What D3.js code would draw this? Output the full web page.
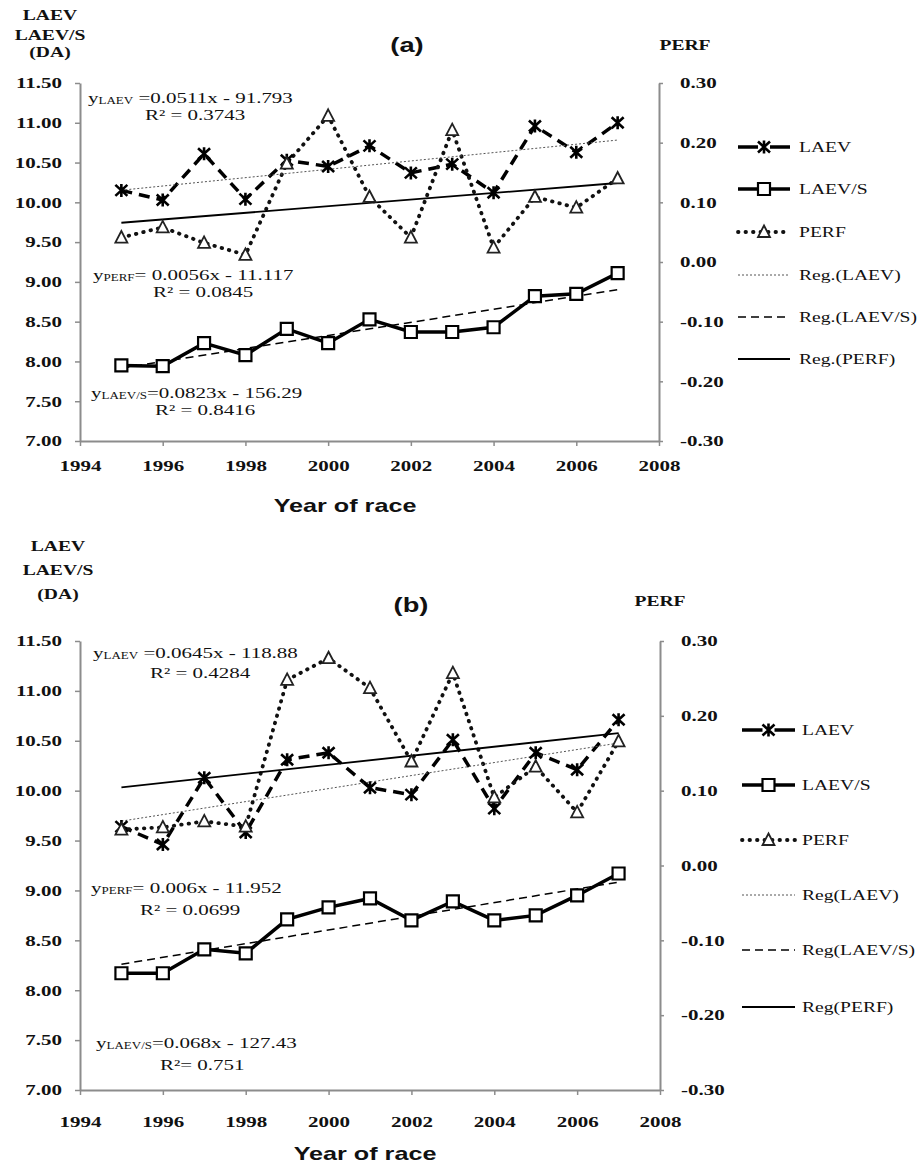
<!DOCTYPE html>
<html>
<head>
<meta charset="utf-8">
<script src="https://cdn.jsdelivr.net/npm/d3@7"></script>
<style>
  body { margin: 0; background: #fff; }
</style>
</head>
<body>
<div id="area"></div>
<script>
const years = [1995, 1996, 1997, 1998, 1999, 2000, 2001, 2002, 2003, 2004, 2005, 2006, 2007];

// panel (a)
const laevA = [10.15, 10.03, 10.61, 10.04, 10.53, 10.45, 10.71, 10.37, 10.48, 10.12, 10.96, 10.63, 11.0];
const laevsA = [7.95, 7.94, 8.23, 8.08, 8.41, 8.23, 8.53, 8.37, 8.37, 8.43, 8.82, 8.85, 9.11];
const perfA = [0.041, 0.058, 0.032, 0.012, 0.165, 0.245, 0.109, 0.041, 0.221, 0.024, 0.109, 0.091, 0.14];

// panel (b)
const laevB = [9.64, 9.46, 10.13, 9.58, 10.31, 10.38, 10.03, 9.96, 10.51, 9.82, 10.38, 10.21, 10.71];
const laevsB = [8.17, 8.17, 8.41, 8.37, 8.71, 8.83, 8.92, 8.7, 8.89, 8.7, 8.75, 8.95, 9.17];
const perfB = [0.048, 0.051, 0.059, 0.052, 0.248, 0.277, 0.237, 0.139, 0.257, 0.091, 0.132, 0.071, 0.166];

const yearTicks = [1994, 1996, 1998, 2000, 2002, 2004, 2006, 2008];
const leftTicks = [7.0, 7.5, 8.0, 8.5, 9.0, 9.5, 10.0, 10.5, 11.0, 11.5];
const rightTicks = [-0.3, -0.2, -0.1, 0.0, 0.1, 0.2, 0.3];

const legendA = ["LAEV", "LAEV/S", "PERF", "Reg.(LAEV)", "Reg.(LAEV/S)", "Reg.(PERF)"];
const legendB = ["LAEV", "LAEV/S", "PERF", "Reg(LAEV)", "Reg(LAEV/S)", "Reg(PERF)"];

// equation labels: [series, equation, R²]
const eqA = [
  ["LAEV", " =0.0511x - 91.793", "R\u00b2 = 0.3743"],
  ["PERF", "= 0.0056x - 11.117", "R\u00b2 = 0.0845"],
  ["LAEV/S", "=0.0823x - 156.29", "R\u00b2 = 0.8416"]
];
const eqB = [
  ["LAEV", " =0.0645x - 118.88", "R\u00b2 = 0.4284"],
  ["PERF", "= 0.006x - 11.952", "R\u00b2 = 0.0699"],
  ["LAEV/S", "=0.068x - 127.43", "R\u00b2= 0.751"]
];

const SX = 1.4; // the original is stretched sideways
const serif = "'Liberation Serif', 'Times New Roman', serif";
const sans = "'Liberation Sans', Arial, sans-serif";
const axisColor = "#8c8c8c";

const svg = d3.select("#area").append("svg").attr("width", 919).attr("height", 1164);

function label(x, y, str, o = {}) {
  return svg.append("text")
    .attr("transform", `translate(${x},${y}) scale(${o.sx || SX},1)`)
    .attr("font-family", o.family || serif)
    .attr("font-weight", o.weight || "normal")
    .attr("font-size", o.size || 15)
    .attr("text-anchor", o.anchor || "start")
    .attr("fill", "#111")
    .text(str);
}

function equation(x, y, e, size) {
  const t = label(x, y, null, { size: size });
  t.append("tspan").text("y");
  t.append("tspan").attr("font-size", size * 0.62).attr("dy", 1).text(e[0]);
  t.append("tspan").attr("dy", -1).text(e[1]);
}

function linreg(xs, ys) {
  const mx = d3.mean(xs), my = d3.mean(ys);
  const sxy = d3.sum(xs, (v, i) => (v - mx) * (ys[i] - my));
  const sxx = d3.sum(xs, (v) => (v - mx) * (v - mx));
  const b = sxy / sxx;
  return (v) => my + b * (v - mx);
}

const markers = {
  star: "M-6,-5.5L6,5.5M-6,5.5L6,-5.5M0,-6.5L0,6.5",
  square: "M-6,-6H6V6H-6Z",
  triangle: "M0,-6.5L6,5L-6,5Z"
};

const styles = {
  laev: { stroke: "#000", width: 3.5, dash: "11,7", cap: "butt", marker: "star" },
  laevs: { stroke: "#000", width: 3.5, dash: null, cap: "butt", marker: "square" },
  perf: { stroke: "#111", width: 3.8, dash: "0.5,7", cap: "round", marker: "triangle" },
  regLaev: { stroke: "#555", width: 1, dash: "2,2", cap: "butt" },
  regLaevs: { stroke: "#000", width: 1.5, dash: "8,5", cap: "butt" },
  regPerf: { stroke: "#000", width: 1.8, dash: null, cap: "butt" }
};

function styled(sel, s) {
  return sel.attr("fill", "none")
    .attr("stroke", s.stroke)
    .attr("stroke-width", s.width)
    .attr("stroke-dasharray", s.dash)
    .attr("stroke-linecap", s.cap);
}

function drawMarker(g, type, cx, cy) {
  const m = g.append("path").attr("d", markers[type]).attr("transform", `translate(${cx},${cy})`);
  if (type === "star") m.attr("fill", "none").attr("stroke", "#000").attr("stroke-width", 2.6);
  if (type === "square") m.attr("fill", "#fff").attr("stroke", "#000").attr("stroke-width", 2.2);
  if (type === "triangle") m.attr("fill", "#fff").attr("stroke", "#222").attr("stroke-width", 1.8);
}

function drawPanel(p, d) {
  const x = d3.scaleLinear().domain([1994, 2008]).range([p.left, p.right]);
  const y = d3.scaleLinear().domain([7, 11.5]).range([p.bottom, p.top]);
  const y2 = d3.scaleLinear().domain([-0.3, 0.3]).range([p.bottom, p.top]);
  const fmt = (v) => d3.format(".2f")(v).replace("\u2212", "-");

  // Left axis
  const axL = svg.append("g")
    .attr("transform", `translate(${p.left},0)`)
    .call(d3.axisLeft(y).tickValues(leftTicks).tickFormat(fmt).tickSize(5).tickSizeOuter(0));
  // Right axis
  const axR = svg.append("g")
    .attr("transform", `translate(${p.right},0)`)
    .call(d3.axisRight(y2).tickValues(rightTicks).tickFormat(fmt).tickSize(4).tickSizeOuter(0));
  // Bottom axis
  const axB = svg.append("g")
    .attr("transform", `translate(0,${p.bottom})`)
    .call(d3.axisBottom(x).tickValues(yearTicks).tickFormat(d3.format("d")).tickSize(5).tickSizeOuter(0).tickPadding(p.yearPad));

  [axL, axR, axB].forEach((ax) => {
    ax.attr("font-family", serif).attr("font-size", 15).attr("font-weight", "bold");
    ax.select(".domain").attr("stroke", axisColor).attr("stroke-width", 2);
    ax.selectAll(".tick line").attr("stroke", axisColor).attr("stroke-width", 1.5);
    ax.selectAll(".tick text").attr("fill", "#111").attr("transform", `scale(${SX},1)`);
  });
  axL.selectAll(".tick text").attr("x", -18 / SX);
  axR.selectAll(".tick text").attr("x", 21 / SX);

  const g = svg.append("g");
  const seriesLine = (yy) => d3.line().x((v, i) => x(years[i])).y((v) => yy(v));

  // Series
  styled(g.append("path").attr("d", seriesLine(y)(d.laev)), styles.laev);
  styled(g.append("path").attr("d", seriesLine(y)(d.laevs)), styles.laevs);
  styled(g.append("path").attr("d", seriesLine(y2)(d.perf)), styles.perf);

  // Trend lines
  const ends = [years[0], years[years.length - 1]];
  const fLaev = linreg(years, d.laev), fLaevs = linreg(years, d.laevs), fPerf = linreg(years, d.perf);
  const trend = (f, yy) => d3.line().x((v) => x(v)).y((v) => yy(f(v)))(ends);
  styled(g.append("path").attr("d", trend(fLaev, y)), styles.regLaev);
  styled(g.append("path").attr("d", trend(fLaevs, y)), styles.regLaevs);
  styled(g.append("path").attr("d", trend(fPerf, y2)), styles.regPerf);

  // Markers
  years.forEach((yr, i) => {
    drawMarker(g, "star", x(yr), y(d.laev[i]));
    drawMarker(g, "square", x(yr), y(d.laevs[i]));
    drawMarker(g, "triangle", x(yr), y2(d.perf[i]));
  });

  // Legend
  const keys = ["laev", "laevs", "perf", "regLaev", "regLaevs", "regPerf"];
  keys.forEach((k, i) => {
    const ly = p.legendY[i];
    const s = styles[k];
    const path = g.append("path").attr("d", `M${p.legendX0},${ly}H${p.legendX1}`);
    styled(path, s);
    if (k === "laev") path.attr("stroke-dasharray", `${(p.legendX1 - p.legendX0 - 12) / 2},12`);
    if (s.marker) drawMarker(g, s.marker, (p.legendX0 + p.legendX1) / 2, ly);
    label(p.legendText, ly + 5, d.legend[i], { size: 14 });
  });

  // Titles
  p.yTitle.forEach((t, i) => label(p.yTitleX, p.yTitleY[i], t, { weight: "bold", size: 14, anchor: "middle" }));
  label(p.perfX, p.perfY, "PERF", { weight: "bold", size: 14, anchor: "middle" });
  label(p.tagX, p.tagY, p.tag, { family: sans, weight: "bold", size: 21, anchor: "middle", sx: 1.3 });
  label(p.xTitleX, p.xTitleY, "Year of race", { family: sans, weight: "bold", size: 18, anchor: "middle", sx: 1.4 });

  // Equations
  d.eq.forEach((e, i) => {
    equation(p.eqPos[i][0], p.eqPos[i][1], e, 15);
    label(p.eqPos[i][2], p.eqPos[i][3], e[2], { size: 15 });
  });
}

drawPanel(
  {
    left: 80, right: 659, top: 83, bottom: 441, yearPad: 14,
    legendX0: 738, legendX1: 790, legendText: 799,
    legendY: [147, 189, 232, 275, 317, 359],
    yTitle: ["LAEV", "LAEV/S", "(DA)"], yTitleX: 50, yTitleY: [20, 40, 57],
    perfX: 685, perfY: 50, tag: "(a)", tagX: 407, tagY: 52,
    xTitleX: 345, xTitleY: 512,
    eqPos: [[88, 103, 145, 120], [93, 280, 153, 297], [91, 398, 155, 415]]
  },
  { laev: laevA, laevs: laevsA, perf: perfA, legend: legendA, eq: eqA }
);

drawPanel(
  {
    left: 80, right: 660, top: 641, bottom: 1090, yearPad: 21,
    legendX0: 742, legendX1: 795, legendText: 802,
    legendY: [730, 785, 840, 895, 950, 1007],
    yTitle: ["LAEV", "LAEV/S", "(DA)"], yTitleX: 58, yTitleY: [551, 575, 599],
    perfX: 660, perfY: 606, tag: "(b)", tagX: 411, tagY: 612,
    xTitleX: 365, xTitleY: 1160,
    eqPos: [[93, 658, 150, 678], [91, 893, 140, 915], [96, 1048, 160, 1070]]
  },
  { laev: laevB, laevs: laevsB, perf: perfB, legend: legendB, eq: eqB }
);
</script>
</body>
</html>
